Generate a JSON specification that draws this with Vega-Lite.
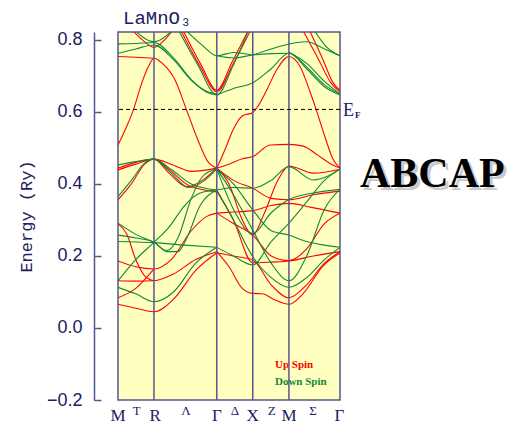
{
"$schema": "https://vega.github.io/schema/vega-lite/v6.json",
"width": 222, "height": 368,
"autosize": "none",
"padding": {"left": 118, "top": 32, "right": 167, "bottom": 26},
"background": "white",
"config": {"view": {"fill": "#ffffc0", "stroke": "#55558f", "strokeWidth": 1.5}},
"datasets": {
"sym": [{"k": 0.162}, {"k": 0.445}, {"k": 0.607}, {"k": 0.77}],
"ef": [{"E": 0.607}],
"eflab": [{"k": 1, "E": 0.603, "t": "E"}],
"efsub": [{"k": 1, "E": 0.603, "t": "F"}],
"ttl": [{"k": 0.0225, "E": 0.844, "t": "LaMnO₃"}],
"kmain": [{"k": 0, "E": -0.259, "t": "M"}, {"k": 0.167, "E": -0.259, "t": "R"}, {"k": 0.445, "E": -0.259, "t": "Γ"}, {"k": 0.607, "E": -0.259, "t": "X"}, {"k": 0.77, "E": -0.259, "t": "M"}, {"k": 0.997, "E": -0.259, "t": "Γ"}],
"kmid": [{"k": 0.084, "E": -0.243, "t": "T"}, {"k": 0.306, "E": -0.243, "t": "Λ"}, {"k": 0.527, "E": -0.243, "t": "Δ"}, {"k": 0.692, "E": -0.243, "t": "Z"}, {"k": 0.878, "E": -0.243, "t": "Σ"}],
"leg": [{"k": 0.707, "E": -0.103, "t": "Up Spin", "s": "Up"}, {"k": 0.707, "E": -0.149, "t": "Down Spin", "s": "Down"}],
"brand": [{"k": 1.09, "E": 0.392, "t": "ABCAP"}],
"bands": [
{"b":"r1","s":"Up","k":0,"E":0.508},{"b":"r1","s":"Up","k":0.032,"E":0.55},{"b":"r1","s":"Up","k":0.069,"E":0.605},{"b":"r1","s":"Up","k":0.107,"E":0.68},{"b":"r1","s":"Up","k":0.137,"E":0.726},{"b":"r1","s":"Up","k":0.162,"E":0.749},{"b":"r1","s":"Up","k":0.2,"E":0.735},{"b":"r1","s":"Up","k":0.257,"E":0.689},{"b":"r1","s":"Up","k":0.309,"E":0.605},{"b":"r1","s":"Up","k":0.36,"E":0.522},{"b":"r1","s":"Up","k":0.405,"E":0.462},{"b":"r1","s":"Up","k":0.445,"E":0.444},
{"b":"r2","s":"Up","k":0,"E":0.754},{"b":"r2","s":"Up","k":0.08,"E":0.752},{"b":"r2","s":"Up","k":0.162,"E":0.749},
{"b":"r3","s":"Up","k":0.06,"E":0.83},{"b":"r3","s":"Up","k":0.11,"E":0.8},{"b":"r3","s":"Up","k":0.162,"E":0.779},{"b":"r3","s":"Up","k":0.21,"E":0.8},{"b":"r3","s":"Up","k":0.25,"E":0.83},
{"b":"r4","s":"Up","k":0.28,"E":0.83},{"b":"r4","s":"Up","k":0.37,"E":0.726},{"b":"r4","s":"Up","k":0.445,"E":0.656},{"b":"r4","s":"Up","k":0.52,"E":0.735},{"b":"r4","s":"Up","k":0.6,"E":0.83},
{"b":"r5","s":"Up","k":0.29,"E":0.83},{"b":"r5","s":"Up","k":0.375,"E":0.73},{"b":"r5","s":"Up","k":0.445,"E":0.66},{"b":"r5","s":"Up","k":0.515,"E":0.74},{"b":"r5","s":"Up","k":0.59,"E":0.83},
{"b":"r6","s":"Up","k":0.445,"E":0.444},{"b":"r6","s":"Up","k":0.485,"E":0.5},{"b":"r6","s":"Up","k":0.518,"E":0.55},{"b":"r6","s":"Up","k":0.563,"E":0.59},{"b":"r6","s":"Up","k":0.607,"E":0.598},{"b":"r6","s":"Up","k":0.625,"E":0.611},{"b":"r6","s":"Up","k":0.67,"E":0.661},{"b":"r6","s":"Up","k":0.715,"E":0.717},{"b":"r6","s":"Up","k":0.77,"E":0.754},{"b":"r6","s":"Up","k":0.82,"E":0.726},{"b":"r6","s":"Up","k":0.865,"E":0.656},{"b":"r6","s":"Up","k":0.892,"E":0.608},{"b":"r6","s":"Up","k":0.932,"E":0.531},{"b":"r6","s":"Up","k":0.97,"E":0.467},{"b":"r6","s":"Up","k":1,"E":0.444},
{"b":"r7","s":"Up","k":0.83,"E":0.83},{"b":"r7","s":"Up","k":0.9,"E":0.75},{"b":"r7","s":"Up","k":0.96,"E":0.68},{"b":"r7","s":"Up","k":1,"E":0.656},
{"b":"r8","s":"Up","k":0.86,"E":0.83},{"b":"r8","s":"Up","k":0.92,"E":0.75},{"b":"r8","s":"Up","k":0.97,"E":0.68},{"b":"r8","s":"Up","k":1,"E":0.66},
{"b":"r9","s":"Up","k":0.445,"E":0.444},{"b":"r9","s":"Up","k":0.5,"E":0.455},{"b":"r9","s":"Up","k":0.56,"E":0.47},{"b":"r9","s":"Up","k":0.607,"E":0.476},{"b":"r9","s":"Up","k":0.685,"E":0.508},{"b":"r9","s":"Up","k":0.77,"E":0.51},{"b":"r9","s":"Up","k":0.835,"E":0.505},{"b":"r9","s":"Up","k":0.9,"E":0.48},{"b":"r9","s":"Up","k":0.96,"E":0.455},{"b":"r9","s":"Up","k":1,"E":0.444},
{"b":"r10","s":"Up","k":0,"E":0.444},{"b":"r10","s":"Up","k":0.08,"E":0.46},{"b":"r10","s":"Up","k":0.162,"E":0.469},{"b":"r10","s":"Up","k":0.23,"E":0.43},{"b":"r10","s":"Up","k":0.31,"E":0.392},{"b":"r10","s":"Up","k":0.38,"E":0.41},{"b":"r10","s":"Up","k":0.445,"E":0.444},
{"b":"r11","s":"Up","k":0,"E":0.439},{"b":"r11","s":"Up","k":0.08,"E":0.455},{"b":"r11","s":"Up","k":0.162,"E":0.469},{"b":"r11","s":"Up","k":0.25,"E":0.452},{"b":"r11","s":"Up","k":0.33,"E":0.435},{"b":"r11","s":"Up","k":0.445,"E":0.444},
{"b":"r12","s":"Up","k":0,"E":0.356},{"b":"r12","s":"Up","k":0.06,"E":0.4},{"b":"r12","s":"Up","k":0.12,"E":0.455},{"b":"r12","s":"Up","k":0.162,"E":0.469},{"b":"r12","s":"Up","k":0.24,"E":0.435},{"b":"r12","s":"Up","k":0.32,"E":0.395},{"b":"r12","s":"Up","k":0.445,"E":0.378},
{"b":"r13","s":"Up","k":0.445,"E":0.319},{"b":"r13","s":"Up","k":0.52,"E":0.322},{"b":"r13","s":"Up","k":0.607,"E":0.326},{"b":"r13","s":"Up","k":0.69,"E":0.34},{"b":"r13","s":"Up","k":0.77,"E":0.346},{"b":"r13","s":"Up","k":0.87,"E":0.335},{"b":"r13","s":"Up","k":1,"E":0.319},
{"b":"r14","s":"Up","k":0.445,"E":0.444},{"b":"r14","s":"Up","k":0.5,"E":0.4},{"b":"r14","s":"Up","k":0.56,"E":0.3},{"b":"r14","s":"Up","k":0.607,"E":0.258},{"b":"r14","s":"Up","k":0.66,"E":0.32},{"b":"r14","s":"Up","k":0.72,"E":0.41},{"b":"r14","s":"Up","k":0.77,"E":0.45},{"b":"r14","s":"Up","k":0.88,"E":0.43},{"b":"r14","s":"Up","k":1,"E":0.441},
{"b":"r15","s":"Up","k":0,"E":0.186},{"b":"r15","s":"Up","k":0.08,"E":0.17},{"b":"r15","s":"Up","k":0.162,"E":0.164},{"b":"r15","s":"Up","k":0.24,"E":0.19},{"b":"r15","s":"Up","k":0.33,"E":0.27},{"b":"r15","s":"Up","k":0.4,"E":0.31},{"b":"r15","s":"Up","k":0.445,"E":0.319},
{"b":"r16","s":"Up","k":0,"E":0.131},{"b":"r16","s":"Up","k":0.08,"E":0.13},{"b":"r16","s":"Up","k":0.162,"E":0.131},{"b":"r16","s":"Up","k":0.25,"E":0.15},{"b":"r16","s":"Up","k":0.35,"E":0.19},{"b":"r16","s":"Up","k":0.445,"E":0.212},
{"b":"r17","s":"Up","k":0,"E":0.29},{"b":"r17","s":"Up","k":0.04,"E":0.26},{"b":"r17","s":"Up","k":0.08,"E":0.19},{"b":"r17","s":"Up","k":0.12,"E":0.145},{"b":"r17","s":"Up","k":0.162,"E":0.131},
{"b":"r18","s":"Up","k":0,"E":0.066},{"b":"r18","s":"Up","k":0.08,"E":0.055},{"b":"r18","s":"Up","k":0.162,"E":0.045},{"b":"r18","s":"Up","k":0.25,"E":0.08},{"b":"r18","s":"Up","k":0.35,"E":0.16},{"b":"r18","s":"Up","k":0.445,"E":0.209},
{"b":"r19","s":"Up","k":0,"E":0.084},{"b":"r19","s":"Up","k":0.08,"E":0.11},{"b":"r19","s":"Up","k":0.162,"E":0.164},
{"b":"r20","s":"Up","k":0.445,"E":0.212},{"b":"r20","s":"Up","k":0.5,"E":0.17},{"b":"r20","s":"Up","k":0.56,"E":0.11},{"b":"r20","s":"Up","k":0.607,"E":0.096},{"b":"r20","s":"Up","k":0.65,"E":0.095},{"b":"r20","s":"Up","k":0.7,"E":0.08},{"b":"r20","s":"Up","k":0.77,"E":0.066},{"b":"r20","s":"Up","k":0.84,"E":0.1},{"b":"r20","s":"Up","k":0.92,"E":0.17},{"b":"r20","s":"Up","k":1,"E":0.209},
{"b":"r21","s":"Up","k":0.445,"E":0.209},{"b":"r21","s":"Up","k":0.52,"E":0.2},{"b":"r21","s":"Up","k":0.607,"E":0.189},{"b":"r21","s":"Up","k":0.69,"E":0.12},{"b":"r21","s":"Up","k":0.77,"E":0.084},{"b":"r21","s":"Up","k":0.85,"E":0.12},{"b":"r21","s":"Up","k":0.93,"E":0.18},{"b":"r21","s":"Up","k":1,"E":0.212},
{"b":"r22","s":"Up","k":0.445,"E":0.319},{"b":"r22","s":"Up","k":0.52,"E":0.29},{"b":"r22","s":"Up","k":0.607,"E":0.258},{"b":"r22","s":"Up","k":0.69,"E":0.2},{"b":"r22","s":"Up","k":0.77,"E":0.187},{"b":"r22","s":"Up","k":0.85,"E":0.22},{"b":"r22","s":"Up","k":0.93,"E":0.29},{"b":"r22","s":"Up","k":1,"E":0.319},
{"b":"r23","s":"Up","k":0.445,"E":0.38},{"b":"r23","s":"Up","k":0.52,"E":0.3},{"b":"r23","s":"Up","k":0.607,"E":0.181},{"b":"r23","s":"Up","k":0.69,"E":0.183},{"b":"r23","s":"Up","k":0.77,"E":0.186},{"b":"r23","s":"Up","k":0.88,"E":0.2},{"b":"r23","s":"Up","k":1,"E":0.212},
{"b":"r24","s":"Up","k":0.445,"E":0.444},{"b":"r24","s":"Up","k":0.52,"E":0.41},{"b":"r24","s":"Up","k":0.607,"E":0.388},{"b":"r24","s":"Up","k":0.69,"E":0.36},{"b":"r24","s":"Up","k":0.77,"E":0.356},{"b":"r24","s":"Up","k":0.88,"E":0.37},{"b":"r24","s":"Up","k":1,"E":0.38},
{"b":"g1","s":"Down","k":0,"E":0.789},{"b":"g1","s":"Down","k":0.08,"E":0.79},{"b":"g1","s":"Down","k":0.162,"E":0.793},{"b":"g1","s":"Down","k":0.25,"E":0.75},{"b":"g1","s":"Down","k":0.33,"E":0.69},{"b":"g1","s":"Down","k":0.4,"E":0.655},{"b":"g1","s":"Down","k":0.445,"E":0.647},
{"b":"g2","s":"Down","k":0,"E":0.763},{"b":"g2","s":"Down","k":0.08,"E":0.775},{"b":"g2","s":"Down","k":0.162,"E":0.786},{"b":"g2","s":"Down","k":0.25,"E":0.745},{"b":"g2","s":"Down","k":0.33,"E":0.688},{"b":"g2","s":"Down","k":0.4,"E":0.657},{"b":"g2","s":"Down","k":0.445,"E":0.65},
{"b":"g3","s":"Down","k":0.07,"E":0.83},{"b":"g3","s":"Down","k":0.162,"E":0.795},{"b":"g3","s":"Down","k":0.25,"E":0.83},
{"b":"g4","s":"Down","k":0.27,"E":0.83},{"b":"g4","s":"Down","k":0.36,"E":0.73},{"b":"g4","s":"Down","k":0.445,"E":0.647},{"b":"g4","s":"Down","k":0.52,"E":0.73},{"b":"g4","s":"Down","k":0.59,"E":0.83},
{"b":"g5","s":"Down","k":0.445,"E":0.647},{"b":"g5","s":"Down","k":0.52,"E":0.665},{"b":"g5","s":"Down","k":0.607,"E":0.681},{"b":"g5","s":"Down","k":0.69,"E":0.72},{"b":"g5","s":"Down","k":0.77,"E":0.763},{"b":"g5","s":"Down","k":0.85,"E":0.72},{"b":"g5","s":"Down","k":0.93,"E":0.67},{"b":"g5","s":"Down","k":1,"E":0.647},
{"b":"g6","s":"Down","k":0.445,"E":0.756},{"b":"g6","s":"Down","k":0.52,"E":0.75},{"b":"g6","s":"Down","k":0.607,"E":0.758},{"b":"g6","s":"Down","k":0.69,"E":0.762},{"b":"g6","s":"Down","k":0.77,"E":0.763},{"b":"g6","s":"Down","k":0.85,"E":0.725},{"b":"g6","s":"Down","k":0.93,"E":0.675},{"b":"g6","s":"Down","k":1,"E":0.65},
{"b":"g7","s":"Down","k":0.3,"E":0.83},{"b":"g7","s":"Down","k":0.38,"E":0.785},{"b":"g7","s":"Down","k":0.445,"E":0.756},{"b":"g7","s":"Down","k":0.52,"E":0.765},{"b":"g7","s":"Down","k":0.607,"E":0.758},
{"b":"g8","s":"Down","k":0.607,"E":0.758},{"b":"g8","s":"Down","k":0.69,"E":0.775},{"b":"g8","s":"Down","k":0.8,"E":0.792},{"b":"g8","s":"Down","k":0.85,"E":0.795},{"b":"g8","s":"Down","k":0.93,"E":0.775},{"b":"g8","s":"Down","k":1,"E":0.756},
{"b":"g9","s":"Down","k":0.77,"E":0.766},{"b":"g9","s":"Down","k":0.85,"E":0.735},{"b":"g9","s":"Down","k":0.93,"E":0.685},{"b":"g9","s":"Down","k":1,"E":0.65},
{"b":"g10","s":"Down","k":0.88,"E":0.83},{"b":"g10","s":"Down","k":0.94,"E":0.78},{"b":"g10","s":"Down","k":1,"E":0.756},
{"b":"g11","s":"Down","k":0,"E":0.453},{"b":"g11","s":"Down","k":0.08,"E":0.462},{"b":"g11","s":"Down","k":0.162,"E":0.469},{"b":"g11","s":"Down","k":0.24,"E":0.43},{"b":"g11","s":"Down","k":0.32,"E":0.39},{"b":"g11","s":"Down","k":0.39,"E":0.41},{"b":"g11","s":"Down","k":0.445,"E":0.442},
{"b":"g12","s":"Down","k":0,"E":0.365},{"b":"g12","s":"Down","k":0.06,"E":0.41},{"b":"g12","s":"Down","k":0.12,"E":0.458},{"b":"g12","s":"Down","k":0.162,"E":0.469},{"b":"g12","s":"Down","k":0.24,"E":0.44},{"b":"g12","s":"Down","k":0.33,"E":0.4},{"b":"g12","s":"Down","k":0.445,"E":0.383},
{"b":"g13","s":"Down","k":0,"E":0.291},{"b":"g13","s":"Down","k":0.08,"E":0.26},{"b":"g13","s":"Down","k":0.162,"E":0.238},{"b":"g13","s":"Down","k":0.22,"E":0.215},{"b":"g13","s":"Down","k":0.27,"E":0.25},{"b":"g13","s":"Down","k":0.33,"E":0.36},{"b":"g13","s":"Down","k":0.38,"E":0.42},{"b":"g13","s":"Down","k":0.445,"E":0.442},
{"b":"g14","s":"Down","k":0,"E":0.131},{"b":"g14","s":"Down","k":0.08,"E":0.19},{"b":"g14","s":"Down","k":0.162,"E":0.238},{"b":"g14","s":"Down","k":0.23,"E":0.28},{"b":"g14","s":"Down","k":0.3,"E":0.34},{"b":"g14","s":"Down","k":0.37,"E":0.375},{"b":"g14","s":"Down","k":0.445,"E":0.383},
{"b":"g15","s":"Down","k":0,"E":0.24},{"b":"g15","s":"Down","k":0.08,"E":0.239},{"b":"g15","s":"Down","k":0.162,"E":0.237},{"b":"g15","s":"Down","k":0.3,"E":0.23},{"b":"g15","s":"Down","k":0.445,"E":0.224},
{"b":"g16","s":"Down","k":0,"E":0.258},{"b":"g16","s":"Down","k":0.08,"E":0.25},{"b":"g16","s":"Down","k":0.162,"E":0.238},{"b":"g16","s":"Down","k":0.22,"E":0.212},{"b":"g16","s":"Down","k":0.27,"E":0.212},{"b":"g16","s":"Down","k":0.31,"E":0.25},{"b":"g16","s":"Down","k":0.37,"E":0.34},{"b":"g16","s":"Down","k":0.445,"E":0.383},
{"b":"g17","s":"Down","k":0,"E":0.113},{"b":"g17","s":"Down","k":0.08,"E":0.095},{"b":"g17","s":"Down","k":0.162,"E":0.073},{"b":"g17","s":"Down","k":0.25,"E":0.1},{"b":"g17","s":"Down","k":0.35,"E":0.18},{"b":"g17","s":"Down","k":0.445,"E":0.224},
{"b":"g18","s":"Down","k":0.445,"E":0.442},{"b":"g18","s":"Down","k":0.52,"E":0.37},{"b":"g18","s":"Down","k":0.607,"E":0.272},{"b":"g18","s":"Down","k":0.69,"E":0.18},{"b":"g18","s":"Down","k":0.77,"E":0.131},{"b":"g18","s":"Down","k":0.85,"E":0.2},{"b":"g18","s":"Down","k":0.93,"E":0.33},{"b":"g18","s":"Down","k":1,"E":0.385},
{"b":"g19","s":"Down","k":0.445,"E":0.383},{"b":"g19","s":"Down","k":0.52,"E":0.3},{"b":"g19","s":"Down","k":0.607,"E":0.198},{"b":"g19","s":"Down","k":0.69,"E":0.14},{"b":"g19","s":"Down","k":0.77,"E":0.113},{"b":"g19","s":"Down","k":0.85,"E":0.14},{"b":"g19","s":"Down","k":0.93,"E":0.19},{"b":"g19","s":"Down","k":1,"E":0.224},
{"b":"g20","s":"Down","k":0.445,"E":0.224},{"b":"g20","s":"Down","k":0.52,"E":0.2},{"b":"g20","s":"Down","k":0.607,"E":0.175},{"b":"g20","s":"Down","k":0.69,"E":0.24},{"b":"g20","s":"Down","k":0.77,"E":0.291},{"b":"g20","s":"Down","k":0.85,"E":0.35},{"b":"g20","s":"Down","k":0.93,"E":0.41},{"b":"g20","s":"Down","k":1,"E":0.441},
{"b":"g21","s":"Down","k":0.445,"E":0.442},{"b":"g21","s":"Down","k":0.52,"E":0.4},{"b":"g21","s":"Down","k":0.607,"E":0.328},{"b":"g21","s":"Down","k":0.69,"E":0.27},{"b":"g21","s":"Down","k":0.77,"E":0.258},{"b":"g21","s":"Down","k":0.85,"E":0.24},{"b":"g21","s":"Down","k":0.93,"E":0.23},{"b":"g21","s":"Down","k":1,"E":0.224},
{"b":"g22","s":"Down","k":0.445,"E":0.383},{"b":"g22","s":"Down","k":0.52,"E":0.39},{"b":"g22","s":"Down","k":0.607,"E":0.388},{"b":"g22","s":"Down","k":0.69,"E":0.41},{"b":"g22","s":"Down","k":0.77,"E":0.448},{"b":"g22","s":"Down","k":0.88,"E":0.411},{"b":"g22","s":"Down","k":1,"E":0.441},
{"b":"g23","s":"Down","k":0.445,"E":0.442},{"b":"g23","s":"Down","k":0.52,"E":0.33},{"b":"g23","s":"Down","k":0.607,"E":0.262},{"b":"g23","s":"Down","k":0.69,"E":0.32},{"b":"g23","s":"Down","k":0.77,"E":0.357},{"b":"g23","s":"Down","k":0.88,"E":0.375},{"b":"g23","s":"Down","k":1,"E":0.385}
]
},
"layer": [
{"data": {"name": "bands"},
 "mark": {"type": "line", "interpolate": "monotone", "strokeWidth": 1.1, "clip": true},
 "encoding": {
  "x": {"field": "k", "type": "quantitative", "scale": {"domain": [0, 1], "nice": false, "zero": false},
   "axis": {"title": null, "domain": false, "ticks": false, "labels": false, "grid": false}},
  "y": {"field": "E", "type": "quantitative", "scale": {"domain": [-0.2, 0.822], "nice": false, "zero": false},
   "axis": {"values": [-0.2, 0, 0.2, 0.4, 0.6, 0.8], "format": ".1f", "offset": 24, "grid": false,
    "title": "Energy (Ry)", "titleFont": "Liberation Mono", "titleFontSize": 17, "titleFontWeight": "normal", "titleColor": "#202060", "titlePadding": 11,
    "labelFont": "Liberation Sans", "labelFontSize": 18, "labelColor": "#202060",
    "domainColor": "#55558f", "domainWidth": 1.5, "tickColor": "#55558f", "tickWidth": 1.5, "tickSize": -7, "labelPadding": 19}},
  "color": {"field": "s", "type": "nominal", "scale": {"domain": ["Up", "Down"], "range": ["#ff0000", "#10883a"]}, "legend": null},
  "detail": {"field": "b", "type": "nominal"}
 }},
{"data": {"name": "sym"}, "mark": {"type": "rule", "color": "#55558f", "strokeWidth": 1.5},
 "encoding": {"x": {"field": "k", "type": "quantitative"}}},
{"data": {"name": "ef"}, "mark": {"type": "rule", "color": "black", "strokeDash": [4, 3], "strokeWidth": 1},
 "encoding": {"y": {"field": "E", "type": "quantitative"}}},
{"data": {"name": "eflab"}, "mark": {"type": "text", "align": "left", "baseline": "middle", "dx": 3, "font": "Liberation Serif", "fontSize": 18, "color": "#202060"},
 "encoding": {"x": {"field": "k", "type": "quantitative"}, "y": {"field": "E", "type": "quantitative"}, "text": {"field": "t"}}},
{"data": {"name": "efsub"}, "mark": {"type": "text", "align": "left", "baseline": "middle", "dx": 15, "dy": 4, "font": "Liberation Serif", "fontSize": 9, "fontWeight": "bold", "color": "#202060"},
 "encoding": {"x": {"field": "k", "type": "quantitative"}, "y": {"field": "E", "type": "quantitative"}, "text": {"field": "t"}}},
{"data": {"name": "ttl"}, "mark": {"type": "text", "align": "left", "baseline": "alphabetic", "font": "Liberation Mono", "fontSize": 19, "color": "#202060"},
 "encoding": {"x": {"field": "k", "type": "quantitative"}, "y": {"field": "E", "type": "quantitative"}, "text": {"field": "t"}}},
{"data": {"name": "kmain"}, "mark": {"type": "text", "align": "center", "baseline": "alphabetic", "font": "Liberation Serif", "fontSize": 17, "color": "#202060"},
 "encoding": {"x": {"field": "k", "type": "quantitative"}, "y": {"field": "E", "type": "quantitative"}, "text": {"field": "t"}}},
{"data": {"name": "kmid"}, "mark": {"type": "text", "align": "center", "baseline": "alphabetic", "font": "Liberation Serif", "fontSize": 13, "color": "#202060"},
 "encoding": {"x": {"field": "k", "type": "quantitative"}, "y": {"field": "E", "type": "quantitative"}, "text": {"field": "t"}}},
{"data": {"name": "leg"}, "mark": {"type": "text", "align": "left", "baseline": "middle", "font": "Liberation Serif", "fontSize": 11, "fontWeight": "bold"},
 "encoding": {"x": {"field": "k", "type": "quantitative"}, "y": {"field": "E", "type": "quantitative"}, "text": {"field": "t"}, "color": {"field": "s", "type": "nominal"}}},
{"data": {"name": "brand"}, "mark": {"type": "text", "align": "left", "baseline": "alphabetic", "dx": 3, "dy": 3, "font": "Liberation Serif", "fontSize": 42, "fontWeight": "bold", "color": "#a0a0a0", "opacity": 0.55},
 "encoding": {"x": {"field": "k", "type": "quantitative"}, "y": {"field": "E", "type": "quantitative"}, "text": {"field": "t"}}},
{"data": {"name": "brand"}, "mark": {"type": "text", "align": "left", "baseline": "alphabetic", "font": "Liberation Serif", "fontSize": 42, "fontWeight": "bold", "color": "black"},
 "encoding": {"x": {"field": "k", "type": "quantitative"}, "y": {"field": "E", "type": "quantitative"}, "text": {"field": "t"}}}
]
}
